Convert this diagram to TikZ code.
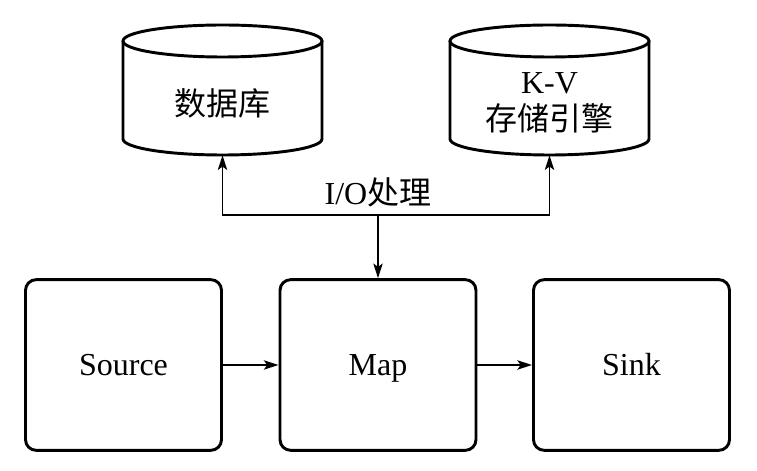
\documentclass[tikz,border=0pt]{standalone}
\usepackage{fontspec}
\setmainfont{Liberation Serif}
\newfontfamily\cjk{Noto Sans CJK SC}
\usetikzlibrary{arrows.meta}
\begin{document}
\begin{tikzpicture}[x=0.75pt,y=0.75pt,
  box/.style={draw,line width=2.2pt,rounded corners=8pt,minimum width=147pt,minimum height=128pt,inner sep=0pt},
  lbl/.style={font=\fontsize{24}{29}\selectfont,inner sep=0pt,align=center},
  boxlbl/.style={lbl,text height=16pt,text depth=0pt},
  cyl/.style={line width=2.2pt},
  conn/.style={line width=1.1pt,-{Stealth[length=11pt,width=7pt,inset=2.5pt]}},
  shapeholder/.style={minimum width=149.25pt,minimum height=97.5pt,inner sep=0pt}]
\useasboundingbox (0,0) rectangle (757,471);
% cylinders
\node[shapeholder] (db) at (222.5,381) {};
\node[shapeholder] (kv) at (549.5,381) {};
\foreach \cx in {222.5,549.5}{
  \draw[cyl] (\cx,430) ellipse [x radius=99.5, y radius=16];
  \draw[cyl] (\cx-99.5,430) -- (\cx-99.5,332) arc [start angle=180,end angle=360,x radius=99.5,y radius=16] -- (\cx+99.5,430);
}
\node[lbl] (dbt) at (222.5,368) {\cjk 数据库};
\node[lbl] (kvt) at (549.5,368) {K-V\\[-1pt]{\cjk 存储引擎}};
% boxes
\node[box] (source) at (123.5,106) {};
\node[box] (map) at (378,106) {};
\node[box] (sink) at (631.5,106) {};
\node[boxlbl] at (source) {Source};
\node[boxlbl] at (map) {Map};
\node[boxlbl] at (sink) {Sink};
% connectors
\coordinate (j) at (378,256);
\draw[conn] (j) -| (db.south);
\draw[conn] (j) -| (kv.south);
\draw[conn] (j) -- (map.north);
\draw[conn] (source.east) -- (map.west);
\draw[conn] (map.east) -- (sink.west);
\node[lbl] (io) at (378,279) {I/O{\cjk 处理}};
\end{tikzpicture}
\end{document}
